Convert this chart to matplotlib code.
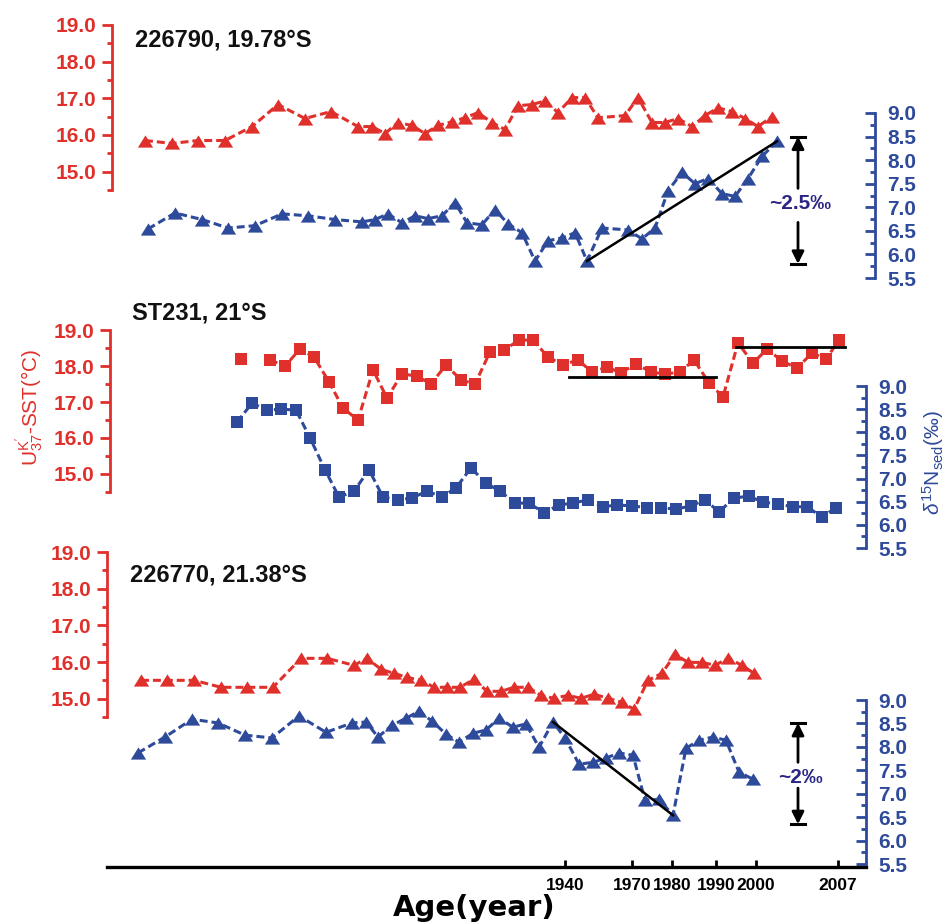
import numpy as np
import matplotlib
matplotlib.use("Agg")
import matplotlib.pyplot as plt
from matplotlib.path import Path
from matplotlib.ticker import MultipleLocator, FormatStrFormatter, FixedLocator

plt.rcParams['font.family'] = ['Liberation Sans', 'DejaVu Sans']
plt.rcParams['mathtext.fontset'] = 'custom'
plt.rcParams['mathtext.rm'] = 'Liberation Sans'
plt.rcParams['mathtext.it'] = 'Liberation Sans:italic'
plt.rcParams['mathtext.bf'] = 'Liberation Sans:bold'

RED = '#E0302B'
BLUE = '#2E4A9A'
INK = '#2A2585'

# ---------------------------------------------------------------
# Data: position along the (non-linear) age axis, SST and d15N
# ---------------------------------------------------------------
# Core 226790, 19.78 S
c1_sst_x = [38, 65, 91, 118, 145, 171, 198, 224, 251, 265, 278, 291, 305, 318, 331,
            345, 358, 371, 385, 398, 411, 425, 438, 451, 465, 478, 491, 518, 531, 545,
            558, 571, 585, 598, 611, 625, 638, 651, 665]
c1_sst = [15.85, 15.77, 15.85, 15.85, 16.23, 16.83, 16.45, 16.64, 16.23, 16.23, 16.04,
          16.34, 16.26, 16.04, 16.26, 16.36, 16.47, 16.61, 16.34, 16.15, 16.80, 16.83,
          16.93, 16.61, 17.02, 17.02, 16.47, 16.53, 17.02, 16.34, 16.34, 16.45, 16.23,
          16.53, 16.74, 16.64, 16.45, 16.23, 16.50]
c1_n_x = [41, 68, 95, 121, 148, 175, 201, 228, 255, 268, 281, 295, 308, 321, 335, 348,
          360, 375, 388, 401, 415, 428, 441, 455, 468, 480, 495, 521, 535, 548, 561,
          575, 588, 601, 615, 628, 641, 655, 670]
c1_n = [6.54, 6.88, 6.74, 6.56, 6.61, 6.86, 6.82, 6.74, 6.69, 6.74, 6.86, 6.67, 6.82,
        6.76, 6.82, 7.10, 6.67, 6.63, 6.95, 6.65, 6.46, 5.86, 6.29, 6.35, 6.46, 5.86,
        6.56, 6.52, 6.33, 6.56, 7.35, 7.74, 7.50, 7.61, 7.29, 7.23, 7.61, 8.08, 8.40]

# Core ST231, 21 S (one SST sample missing)
c2_sst_x = [134, 148, 163, 178, 193, 207, 222, 236, 251, 266, 280, 295, 310, 324, 339,
            354, 368, 383, 397, 412, 426, 441, 456, 471, 485, 500, 514, 529, 544, 558,
            573, 587, 602, 616, 631, 646, 660, 675, 690, 705, 719, 732]
c2_sst = [18.19, np.nan, 18.17, 18.00, 18.47, 18.25, 17.56, 16.83, 16.50, 17.89, 17.11,
          17.78, 17.72, 17.50, 18.03, 17.61, 17.50, 18.39, 18.44, 18.72, 18.72, 18.25,
          18.03, 18.17, 17.83, 17.97, 17.81, 18.06, 17.83, 17.78, 17.83, 18.17, 17.53,
          17.14, 18.64, 18.08, 18.47, 18.14, 17.94, 18.36, 18.19, 18.72]
c2_n_x = [130, 145, 160, 174, 189, 203, 218, 232, 247, 262, 276, 291, 305, 320, 335,
          349, 364, 379, 393, 408, 422, 437, 452, 466, 481, 496, 510, 525, 540, 554,
          569, 584, 598, 612, 627, 642, 656, 671, 686, 700, 715, 729]
c2_n = [8.22, 8.63, 8.48, 8.50, 8.48, 7.88, 7.19, 6.60, 6.73, 7.19, 6.60, 6.54, 6.58,
        6.73, 6.60, 6.80, 7.23, 6.90, 6.73, 6.47, 6.47, 6.26, 6.43, 6.47, 6.54, 6.39,
        6.43, 6.41, 6.37, 6.37, 6.34, 6.41, 6.54, 6.28, 6.58, 6.62, 6.49, 6.45, 6.39,
        6.39, 6.17, 6.37]
# mean SST levels for two periods: (start, end, level)
c2_levels = [(462, 609, 17.69), (629, 738, 18.53)]

# Core 226770, 21.38 S
c3_sst_x = [34, 60, 87, 114, 140, 166, 194, 220, 247, 260, 274, 287, 300, 314, 327,
            340, 353, 367, 380, 394, 407, 421, 434, 447, 461, 474, 487, 501, 515, 527,
            541, 555, 568, 581, 595, 608, 621, 635, 647]
c3_sst = [15.50, 15.50, 15.50, 15.31, 15.31, 15.31, 16.10, 16.10, 15.91, 16.10, 15.80,
          15.69, 15.58, 15.50, 15.31, 15.31, 15.31, 15.53, 15.20, 15.20, 15.31, 15.31,
          15.09, 15.01, 15.09, 15.01, 15.12, 15.01, 14.90, 14.71, 15.50, 15.69, 16.21,
          15.99, 15.99, 15.91, 16.10, 15.91, 15.69]
c3_n_x = [31, 58, 85, 111, 138, 165, 192, 219, 245, 259, 271, 285, 299, 312, 325, 339,
          352, 366, 379, 392, 406, 419, 432, 446, 458, 472, 486, 499, 512, 526, 538,
          552, 566, 579, 592, 606, 619, 632, 646]
c3_n = [7.87, 8.21, 8.59, 8.51, 8.25, 8.19, 8.66, 8.31, 8.51, 8.53, 8.21, 8.46, 8.61,
        8.76, 8.55, 8.27, 8.10, 8.29, 8.36, 8.61, 8.42, 8.49, 7.99, 8.53, 8.19, 7.63,
        7.67, 7.76, 7.87, 7.82, 6.86, 6.88, 6.54, 7.97, 8.14, 8.21, 8.14, 7.46, 7.31]

# age axis ticks
age_tick_pos = [458, 525, 565, 609, 649, 731]
age_tick_lab = ['1940', '1970', '1980', '1990', '2000', '2007']

# range brackets: (x, top, bottom, label, label_y, arrow_up_from, arrow_down_from)
c1_range = (691, 8.50, 5.80, '~2.5‰', 7.09, 7.40, 6.68)
c3_range = (691, 8.51, 6.35, '~2‰', 7.35, 7.67, 7.12)

titles = ['226790, 19.78°S', 'ST231, 21°S', '226770, 21.38°S']

# ---------------------------------------------------------------
# Layout helpers (pixel geometry of the figure)
# ---------------------------------------------------------------
W, H = 951, 924
fig = plt.figure(figsize=(W / 100, H / 100), dpi=100)

X0, X1 = 107, 866
XLIM = (0, X1 - X0)


def make_axes(top_px, bot_px):
    ax = fig.add_axes([X0 / W, 1 - bot_px / H, (X1 - X0) / W, (bot_px - top_px) / H])
    ax.set_facecolor('none')
    ax.set_xlim(*XLIM)
    for s in ax.spines.values():
        s.set_visible(False)
    ax.xaxis.set_visible(False)
    return ax


def style_ticklabels(ax, color):
    for lab in ax.get_yticklabels():
        lab.set_fontweight('bold')
        lab.set_color(color)
        lab.set_fontsize(15)


def red_axis(top_px, bot_px, spine_px):
    ax = make_axes(top_px, bot_px)
    ax.set_ylim(14.5, 19.0)
    ax.spines['left'].set_visible(True)
    ax.spines['left'].set_color(RED)
    ax.spines['left'].set_linewidth(2.0)
    ax.spines['left'].set_position(('axes', (spine_px - X0) / (X1 - X0)))
    ax.yaxis.set_major_locator(FixedLocator([15, 16, 17, 18, 19]))
    ax.yaxis.set_minor_locator(MultipleLocator(0.5))
    ax.yaxis.set_major_formatter(FormatStrFormatter('%.1f'))
    ax.tick_params(axis='y', which='major', direction='out', length=7, width=2.0,
                   color=RED, pad=4)
    ax.tick_params(axis='y', which='minor', direction='out', length=3.5, width=2.0,
                   color=RED)
    style_ticklabels(ax, RED)
    return ax


def blue_axis(top_px, bot_px, spine_px):
    ax = make_axes(top_px, bot_px)
    ax.set_ylim(5.5, 9.0)
    ax.yaxis.tick_right()
    ax.spines['right'].set_visible(True)
    ax.spines['right'].set_color(BLUE)
    ax.spines['right'].set_linewidth(2.0)
    ax.spines['right'].set_position(('axes', (spine_px - X0) / (X1 - X0)))
    ax.yaxis.set_major_locator(MultipleLocator(0.5))
    ax.yaxis.set_minor_locator(MultipleLocator(0.25))
    ax.yaxis.set_major_formatter(FormatStrFormatter('%.1f'))
    ax.tick_params(axis='y', which='major', direction='in', length=7, width=2.0,
                   color=BLUE, pad=9)
    ax.tick_params(axis='y', which='minor', direction='in', length=3.5, width=2.0,
                   color=BLUE)
    style_ticklabels(ax, BLUE)
    return ax


# wide, low triangle marker
tri = Path([(0, 0.8), (-1, -0.8), (1, -0.8), (0, 0.8)],
           [Path.MOVETO, Path.LINETO, Path.LINETO, Path.CLOSEPOLY])

line_kw = dict(lw=2.2, dashes=(2.6, 1.3), clip_on=False, mew=0)


def series(ax, x, y, color, marker, ms):
    ax.plot(x, y, color=color, marker=marker, ms=ms, mfc=color, mec=color, **line_kw)


def bracket(ax, spec):
    x, top, bot, text, ty, up_from, down_from = spec
    cap = 7
    ax.plot([x - cap, x + cap], [top, top], color='k', lw=2.2, clip_on=False)
    ax.plot([x - cap, x + cap], [bot, bot], color='k', lw=2.2, clip_on=False)
    arrow = dict(arrowstyle='-|>', color='k', lw=2.0, mutation_scale=18,
                 shrinkA=0, shrinkB=0)
    ax.annotate('', xy=(x, top), xytext=(x, up_from), arrowprops=arrow,
                annotation_clip=False)
    ax.annotate('', xy=(x, bot), xytext=(x, down_from), arrowprops=arrow,
                annotation_clip=False)
    ax.text(x + 2, ty, text, color=INK, fontsize=15, fontweight='bold',
            ha='center', va='center')


# ---------------------------------------------------------------
# Panel 1: 226790
# ---------------------------------------------------------------
r1 = red_axis(25, 190, 112)
b1 = blue_axis(113, 278, 875)
series(r1, c1_sst_x, c1_sst, RED, tri, 11)
series(b1, c1_n_x, c1_n, BLUE, tri, 11)
b1.plot([c1_n_x[25], c1_n_x[38]], [c1_n[25], c1_n[38]], color='k', lw=1.8,
        clip_on=False)
bracket(b1, c1_range)

# ---------------------------------------------------------------
# Panel 2: ST231
# ---------------------------------------------------------------
r2 = red_axis(330, 492, 110)
b2 = blue_axis(386, 548, 866)
series(r2, c2_sst_x, c2_sst, RED, 's', 8)
series(b2, c2_n_x, c2_n, BLUE, 's', 8)
for x_start, x_end, level in c2_levels:
    r2.plot([x_start, x_end], [level, level], color='k', lw=2.0, clip_on=False)

# ---------------------------------------------------------------
# Panel 3: 226770
# ---------------------------------------------------------------
r3 = red_axis(552, 717, 107)
b3 = blue_axis(700, 864, 866)
series(r3, c3_sst_x, c3_sst, RED, tri, 11)
series(b3, c3_n_x, c3_n, BLUE, tri, 11)
b3.plot([c3_n_x[23], c3_n_x[32]], [c3_n[23], c3_n[32]], color='k', lw=1.8,
        clip_on=False)
bracket(b3, c3_range)

# ---------------------------------------------------------------
# Shared age axis
# ---------------------------------------------------------------
ax_age = fig.add_axes([X0 / W, 1 - 867 / H, (X1 - X0) / W, 1 / H])
ax_age.set_facecolor('none')
ax_age.set_xlim(*XLIM)
for k in ('top', 'left', 'right'):
    ax_age.spines[k].set_visible(False)
ax_age.spines['bottom'].set_linewidth(2.4)
ax_age.yaxis.set_visible(False)
ax_age.set_xticks(age_tick_pos)
ax_age.set_xticklabels(age_tick_lab, fontweight='bold', fontsize=12.5)
ax_age.tick_params(axis='x', direction='in', length=5, width=2.0, pad=8)

fig.text(474 / W, 1 - 908 / H, 'Age(year)', fontfamily='DejaVu Sans',
         fontweight='bold', fontsize=21, ha='center', va='center')

# ---------------------------------------------------------------
# Titles and axis labels
# ---------------------------------------------------------------
for (tx, ty), t in zip([(135, 40), (132, 313), (130, 575)], titles):
    fig.text(tx / W, 1 - ty / H, t, fontsize=17, fontweight='bold', color='#111111',
             ha='left', va='center')

fig.text(30 / W, 1 - 407 / H, r"U$_{37}^{\mathrm{K}'}$-SST(°C)", rotation=90,
         color=RED, fontsize=15, ha='center', va='center')
fig.text(933 / W, 1 - 463 / H, r"$\delta^{15}$N$_{\mathrm{sed}}$(‰)", rotation=90,
         color=BLUE, fontsize=15, ha='center', va='center')

fig.savefig('out.png', dpi=100)
